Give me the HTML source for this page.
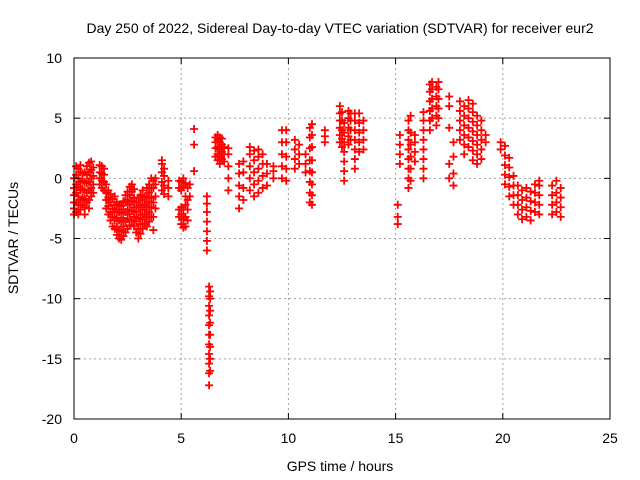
<!DOCTYPE html>
<html><head><meta charset="utf-8"><style>
body{margin:0;background:#fff;}
svg{display:block;font-family:"Liberation Sans",sans-serif;}
</style></head><body>
<svg id="chart" width="640" height="480" xmlns="http://www.w3.org/2000/svg">
<rect width="640" height="480" fill="#fff"/>
<text x="340" y="33" font-size="14" text-anchor="middle">Day 250 of 2022, Sidereal Day-to-day VTEC variation (SDTVAR) for receiver eur2</text>
<g id="grid"></g>
<g id="marks"></g>
<rect x="74" y="58" width="536" height="361" fill="none" stroke="#000" stroke-width="1"/>
<g id="ticks"></g>
<text x="340" y="471" font-size="14" text-anchor="middle">GPS time / hours</text>
<text x="0" y="0" font-size="14" text-anchor="middle" transform="translate(18,238) rotate(-90)">SDTVAR / TECUs</text>
</svg>
<script>
const xTicks=[0,5,10,15,20,25];
const yTicks=[10,5,0,-5,-10,-15,-20];
const times=[0.0,0.1,0.2,0.3,0.4,0.5,0.6,0.7,0.8,0.9,1.2,1.3,1.4,1.5,1.6,1.7,1.8,1.9,2.0,2.1,2.2,2.3,2.4,2.5,2.6,2.7,2.8,2.9,3.0,3.1,3.2,3.3,3.4,3.5,3.6,3.7,3.8,4.1,4.2,4.4,4.9,5.0,5.1,5.2,5.3,5.4,5.6,6.2,6.3,6.35,6.6,6.7,6.8,6.9,7.0,7.2,7.7,7.9,8.2,8.4,8.6,8.8,9.0,9.3,9.7,9.9,10.3,10.5,10.8,11.0,11.1,11.7,12.4,12.5,12.6,12.8,12.9,13.1,13.3,13.5,15.1,15.2,15.6,15.7,15.9,16.3,16.6,16.7,16.9,17.0,17.5,17.7,18.0,18.2,18.4,18.6,18.8,19.0,19.2,19.9,20.1,20.3,20.5,20.7,20.9,21.1,21.3,21.5,21.7,22.3,22.5,22.7];
const values=[
[-3,-2.5,-2,-1.4,-0.8,0],[-2.8,-2,-1.2,-0.5,0.3,1],[-3,-2.2,-1.5,-0.7,0,0.8],[-2.6,-1.8,-1,-0.3,0.5,1.1],[-2.2,-1.6,-0.9,-0.2,0.4],
[-3,-2.4,-1.7,-1,-0.3,0.5],[-2,-1.2,-0.4,0.3,1],[-2.5,-1.8,-1,-0.3,0.5,1.3],[-1.5,-0.8,0,0.7,1.4],[-1.2,-0.5,0.2,0.9],
[-0.5,0,0.5,1.1],[-0.8,-0.2,0.4,1],[-1,-0.3,0.3,0.8],[-2.5,-1.8,-1.2,-0.5],[-3,-2.3,-1.6,-1],[-3.5,-2.8,-2,-1.3],
[-4,-3.2,-2.5,-1.7],[-4.2,-3.5,-2.8,-2.2,-1.5],[-4.7,-4,-3.3,-2.6,-2],[-5,-4.3,-3.5,-2.8,-2.2],[-5.1,-4.4,-3.6,-2.9,-2.3],
[-4.8,-4,-3.3,-2.6,-1.9],[-4.5,-3.6,-2.8,-2,-1.4],[-4.2,-3.4,-2.6,-1.8,-1.1],[-3.9,-3,-2.2,-1.4,-0.7],[-3.5,-2.7,-1.9,-1.1,-0.5],
[-4,-3.2,-2.4,-1.6,-0.9],[-4.5,-3.6,-2.8,-2],[-5,-4.2,-3.3,-2.4,-1.6],[-4.6,-3.8,-3,-2.2,-1.4],[-4.2,-3.4,-2.6,-1.8,-1],
[-3.8,-3,-2.2,-1.5],[-4,-3.2,-2.4,-1.6,-0.8],[-3.6,-2.8,-2,-1.2,-0.5],[-3.2,-2.4,-1.6,-0.8,0],[-4.3,-3.2,-2,-0.8,-0.2],
[-2.5,-1.5,-0.5,0],[-1,-0.3,0.5,1.2,1.5],[-1.3,-0.6,0.2,0.8],[-1.5,-0.8,-0.2],[-3.2,-2.6,-0.8,-0.2],[-3.8,-3,-2.4,-1,-0.3],
[-4.1,-3.4,-2.6,-0.6,0],[-4,-3.2,-2.2,-1.5,-0.4],[-3.5,-2.6,-1.8,-0.8],[-1.5,-0.5],[4.1,2.8,0.6],
[-6,-5.2,-4.4,-3.6,-2.8,-2.1,-1.5],[-17.2,-16.2,-15.4,-14.6,-13.8,-13,-12.2,-11.4,-10.6,-9.8,-9],[-16,-15,-14,-13,-12,-11,-10,-9.4],
[1.8,2.5,3,3.4],[1.5,2,2.6,3.2,3.6],[1.2,1.8,2.4,3,3.4],[1.6,2.2,2.8,3.3],[1.4,2,2.6],[-1,0,1,2,2.5],
[-2.5,-1.5,-0.6,0.4,1.2],[-1.8,-0.8,0.5,1.4],[-1,0,1,2,2.6],[-1.5,-0.5,0.5,1.5,2.3],[-1.2,-0.2,0.8,1.8,2.4],[-0.8,0.2,1.2,2],
[-0.6,0.4,1.2],[0,0.6,1],[0,1,2,3,4],[-0.2,0.8,1.8,3,4],[0.8,1.6,2.4,3.2],[1.2,2,2.8],[0.5,1.2,2],
[-2,-1.2,-0.3,0.6,1.5,2.5,3.4,4.2],[-2.2,-1.4,-0.5,0.5,1.5,2.6,3.6,4.5],[3,3.5,4],
[3,3.6,4.2,4.8,5.4,6],[2.6,3.3,4,4.8,5.5],[-0.2,0.6,1.4,2.2,3,3.8,4.6],[2.8,3.5,4.2,5,5.6],[3.2,4,4.8,5.4],
[0.8,1.6,2.4,3.2,4,4.8,5.4],[2.2,3,3.8,4.6,5.4],[2.4,3.2,4,4.8],
[-3.8,-3.2,-2.2],[1.2,2,2.8,3.6],[-0.8,0,0.8,1.6,2.4,3.2,4,4.8],[-0.2,0.8,1.8,2.8,3.8,5.2],[1.4,2.2,3,3.6],
[0,0.8,1.6,2.4,3.2,4,4.8,5.5],[4,4.8,5.6,6.4,7.2,7.8],[5,5.8,6.6,7.4,8],[4.4,5.2,6,6.8,7.6],[5,5.8,6.6,7.4,8],
[6.8,6,4.2,1.2,0],[-0.6,0.4,1.8,3],[3.2,4,4.8,5.6,6.4],[2,2.8,3.6,4.4,5.2,6],[2.6,3.4,4.2,5,5.8,6.5],
[1.5,2.3,3.1,3.9,4.7,5.5,6.2],[1.2,2,2.8,3.6,4.4,5.2],[1.6,2.4,3.2,4,4.8],[3,3.6],[3,2.4],
[-0.5,0.3,1.1,1.9,2.7],[-1.5,-0.7,0.1,0.9,1.7],[-2.2,-1.4,-0.6,0.2],[-3,-2.2,-1.4,-0.6],[-3.4,-2.6,-1.8,-1],
[-3.2,-2.4,-1.6,-0.8],[-3.5,-2.7,-1.9,-1.1],[-2.8,-2,-1.2,-0.5],[-3,-2.2,-1.4,-0.6,-0.2],
[-3,-2.2,-1.4,-0.6],[-2.8,-2,-1.2,-0.2],[-3.2,-2.4,-1.6,-0.8]
];
const NS="http://www.w3.org/2000/svg";
const X0=74,X1=610,Y0=419,Y1=58;
function sx(v){return X0+(v-0)/(25-0)*(X1-X0);}
function sy(v){return Y0-(v+20)/(10+20)*(Y0-Y1);}
const grid=document.getElementById('grid'),ticks=document.getElementById('ticks'),marks=document.getElementById('marks');
function mk(tag,attrs,parent){const e=document.createElementNS(NS,tag);for(const k in attrs)e.setAttribute(k,attrs[k]);parent.appendChild(e);return e;}
xTicks.forEach(t=>{
  const x=sx(t);
  if(t>0&&t<25){const g=mk('line',{x1:x,x2:x,y1:Y1,y2:Y0,stroke:'#a0a0a0','stroke-dasharray':'2,3'},grid);
  
  }
  mk('line',{x1:x,x2:x,y1:Y0,y2:Y0-6,stroke:'#000'},ticks);
  mk('line',{x1:x,x2:x,y1:Y1,y2:Y1+6,stroke:'#000'},ticks);
  const l=mk('text',{x:x,y:Y0+24,'font-size':14,'text-anchor':'middle'},ticks);
  l.textContent=t;
  
  
});
yTicks.forEach(t=>{
  const y=sy(t);
  if(t>-20&&t<10){const g=mk('line',{x1:X0,x2:X1,y1:y,y2:y,stroke:'#a0a0a0','stroke-dasharray':'2,3'},grid);
  
  }
  mk('line',{x1:X0,x2:X0+6,y1:y,y2:y,stroke:'#000'},ticks);
  mk('line',{x1:X1,x2:X1-6,y1:y,y2:y,stroke:'#000'},ticks);
  const l=mk('text',{x:X0-12,y:y+5,'font-size':14,'text-anchor':'end'},ticks);
  l.textContent=t;
  
  
});
times.forEach((t,i)=>{
  values[i].forEach(v=>{
    const x=sx(t),y=sy(v);
    const p=mk('path',{d:`M${x-4},${y}h8M${x},${y-4}v8`,stroke:'#ff0000','stroke-width':1.8,fill:'none'},marks);
    
    
  });
});
</script>
</body></html>
